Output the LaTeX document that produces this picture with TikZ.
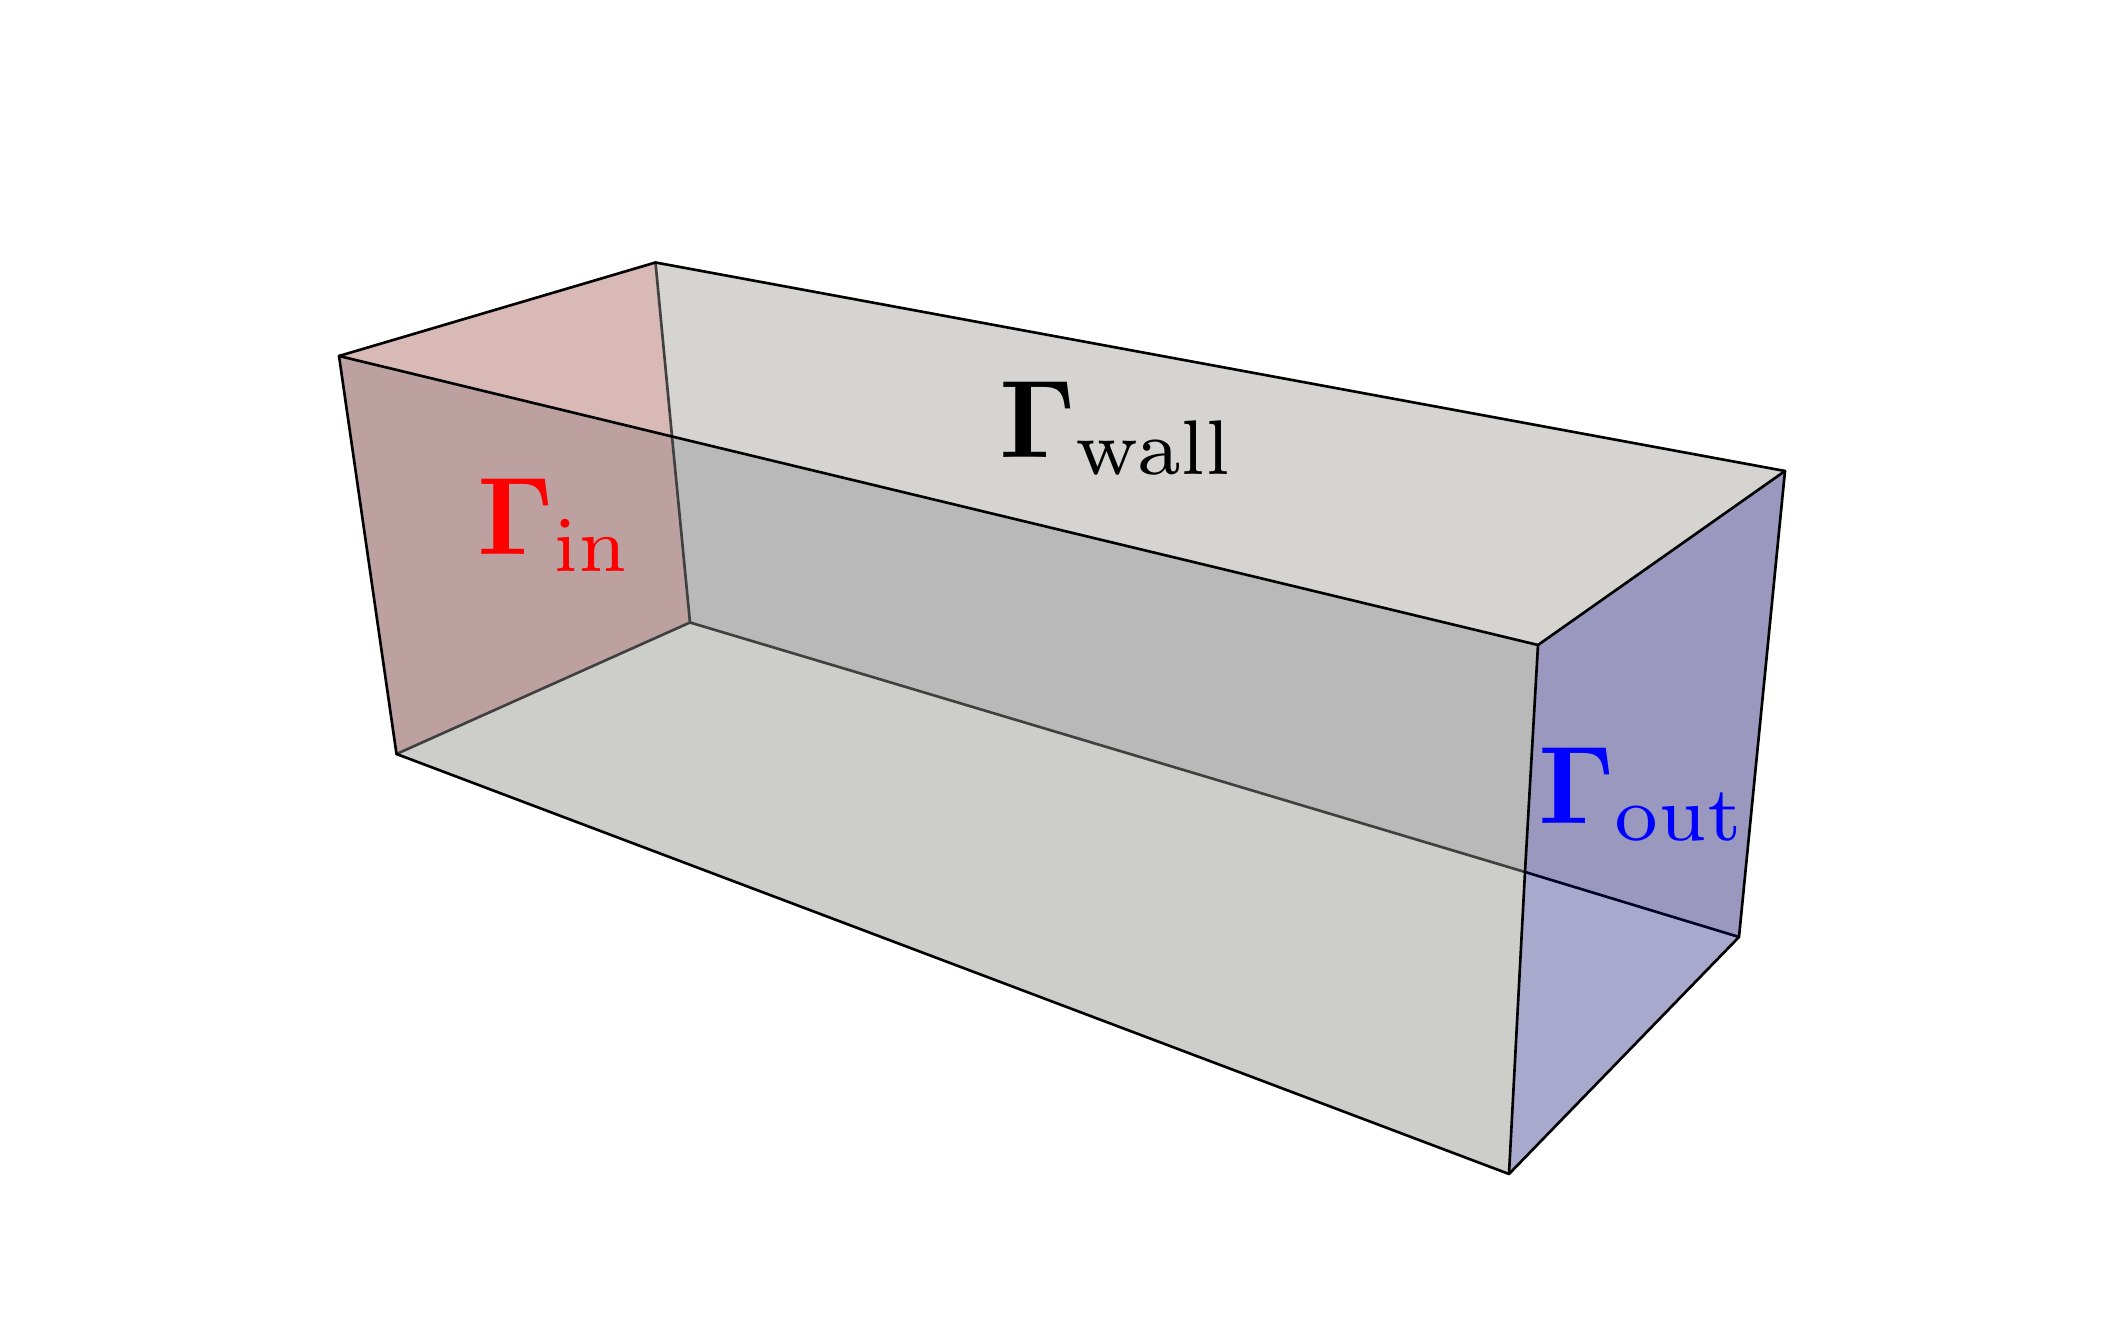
\documentclass[tikz,border=0pt]{standalone}
\usepackage{xcolor}
\usetikzlibrary{positioning}
\definecolor{inTop}{HTML}{D8B9B5}
\definecolor{inLow}{HTML}{BDA1A1}
\definecolor{wallTop}{HTML}{D5D4D0}
\definecolor{wallBack}{HTML}{B9B9B9}
\definecolor{wallLow}{HTML}{CDCEC9}
\definecolor{outTop}{HTML}{9A98BE}
\definecolor{outLow}{HTML}{A9A9CE}
\tikzset{
    edge/.style = {line width = 0.75pt, line join = round, line cap = round},
    hidden/.style = {edge, draw = black!75},
    label/.style = {scale = 3.15, inner sep = 0pt, anchor = base west}
}

\begin{document}
\begin{tikzpicture}[x = 0.1mm, y = -0.1mm]
            \useasboundingbox (0, 0) rectangle (2110, 1319);

            \coordinate (a) at (339, 356);
            \coordinate (b) at (655.5, 262.5);
            \coordinate (c) at (672, 436.5);
            \coordinate (d) at (690, 622.5);
            \coordinate (e) at (396.5, 754);
            \coordinate (f) at (1785, 471);
            \coordinate (g) at (1538, 645);
            \coordinate (h) at (1739, 937);
            \coordinate (i) at (1509, 1174);
            \coordinate (j) at (1525, 872);

            \fill[inTop] (a) -- (b) -- (c) -- cycle;
            \fill[inLow] (a) -- (c) -- (d) -- (e) -- cycle;
            \fill[wallTop] (b) -- (f) -- (g) -- (c) -- cycle;
            \fill[wallBack] (c) -- (g) -- (j) -- (d) -- cycle;
            \fill[wallLow] (d) -- (j) -- (i) -- (e) -- cycle;
            \fill[outTop] (g) -- (f) -- (h) -- (j) -- cycle;
            \fill[outLow] (j) -- (h) -- (i) -- cycle;

            \draw[hidden] (b) -- (c);
            \draw[hidden] (c) -- (d);
            \draw[hidden] (e) -- (d);
            \draw[hidden] (d) -- (j);
            \draw[edge, draw = black!85!blue] (j) -- (h);

            \draw[edge] (a) -- (b);
            \draw[edge] (b) -- (f);
            \draw[edge] (a) -- (e);
            \draw[edge] (a) -- (c);
            \draw[edge] (c) -- (g);
            \draw[edge] (g) -- (f);
            \draw[edge] (f) -- (h);
            \draw[edge] (h) -- (i);
            \draw[edge] (g) -- (j);
            \draw[edge] (j) -- (i);
            \draw[edge] (e) -- (i);

            \node[label, text = red] (in) at (475, 555) {$\mathbf{\Gamma}_{\mathrm{in}}$};
            \node[label] (wall) at (997, 458) {$\mathbf{\Gamma}_{\mathrm{wall}}$};
            \node[label, text = blue] (out) at (1536, 824) {$\mathbf{\Gamma}_{\mathrm{out}}$};
        \end{tikzpicture}
\end{document}
